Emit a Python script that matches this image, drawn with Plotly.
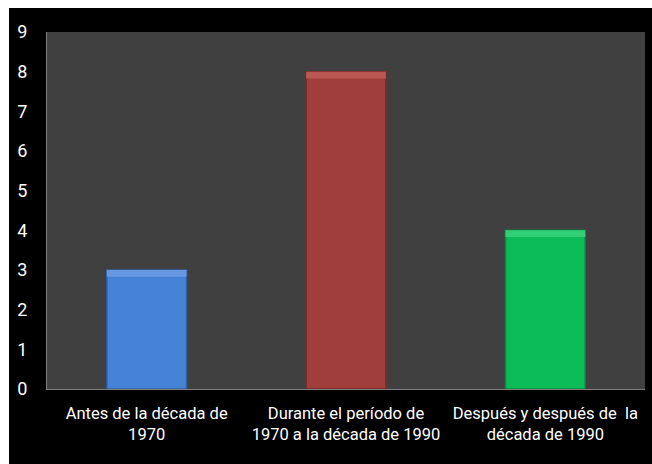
import plotly.graph_objects as go

categories = ["Antes de la década de<br>1970",
              "Durante el período de<br>1970 a la década de 1990",
              "Después y después de  la<br>década de 1990"]
values = [3, 8, 4]
bar_colors = ["#4682d6", "#a03e3b", "#0bbb57"]
edge_colors = ["#2f5f9e", "#7a2a28", "#07883e"]
top_colors = ["#6799e2", "#bb5753", "#33cf77"]
y_ticks = list(range(0, 10))
bevel = 0.17

W, H = 652, 464
L, R, T, B = 47, 7, 32, 75
pw, ph = W - L - R, H - T - B

fig = go.Figure()
fig.add_trace(go.Bar(
    x=categories, y=values,
    marker=dict(color=bar_colors, line=dict(color=edge_colors, width=1.5)),
    width=0.4, hoverinfo="skip",
))
fig.add_trace(go.Bar(
    x=categories, y=[bevel] * len(values), base=[v - bevel for v in values],
    marker=dict(color=top_colors, line=dict(width=0)),
    width=0.4, hoverinfo="skip",
))

font_fam = "Roboto, Lato, sans-serif"

fig.update_layout(
    width=W, height=H,
    margin=dict(l=L, r=R, t=T, b=B),
    paper_bgcolor="#000000",
    plot_bgcolor="#404040",
    showlegend=False,
    barmode="overlay",
    font=dict(family=font_fam, color="#ffffff", size=16),
    xaxis=dict(
        showgrid=False, showline=True, linecolor="#808080", linewidth=1,
        ticks="", tickfont=dict(size=16.5, color="#ffffff"), ticklabelstandoff=9,
    ),
    yaxis=dict(
        range=[0, 9], tickvals=y_ticks, showgrid=False, zeroline=False,
        showline=True, linecolor="#808080", linewidth=1, ticks="",
        tickfont=dict(size=18, color="#ffffff"), ticklabelstandoff=15,
    ),
    shapes=[
        dict(type="rect", xref="paper", yref="paper",
             x0=-L / pw - 0.01, x1=(9 - L) / pw, y0=-B / ph - 0.01, y1=(H - B) / ph + 0.01,
             fillcolor="#ffffff", line=dict(width=0), layer="above"),
        dict(type="rect", xref="paper", yref="paper",
             x0=-L / pw - 0.01, x1=1 + R / pw + 0.01, y0=(H - B - 8) / ph, y1=(H - B) / ph + 0.01,
             fillcolor="#ffffff", line=dict(width=0), layer="above"),
    ],
)

fig.write_html("out.html")
